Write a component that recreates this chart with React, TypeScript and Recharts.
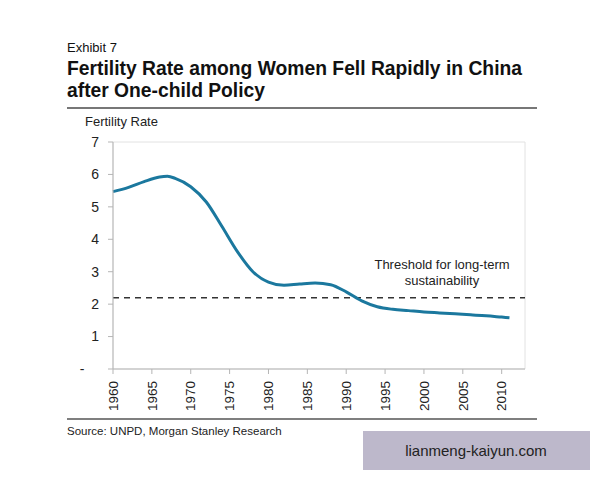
import React from 'react';
import { LineChart, Line, XAxis, YAxis, ReferenceLine, ReferenceArea } from 'recharts';

// fertility rate (births per woman)
const years = [1960, 1962, 1964, 1966, 1967, 1968, 1970, 1972, 1974, 1976, 1978, 1980, 1982, 1984, 1986, 1988, 1990, 1992, 1994, 1996, 1998, 2000, 2002, 2004, 2006, 2008, 2010, 2011];
const fertility = [5.47, 5.6, 5.78, 5.92, 5.94, 5.88, 5.62, 5.15, 4.4, 3.62, 3.0, 2.68, 2.58, 2.62, 2.65, 2.6, 2.38, 2.1, 1.92, 1.84, 1.8, 1.76, 1.73, 1.7, 1.67, 1.64, 1.6, 1.58];
const xTicks = [1960, 1965, 1970, 1975, 1980, 1985, 1990, 1995, 2000, 2005, 2010];
const yTicks = [0, 1, 2, 3, 4, 5, 6, 7];
const threshold = 2.2;

const data = years.map((y, i) => ({ year: y, rate: fertility[i] }));

const FONT = '"Liberation Sans", Arial, Helvetica, sans-serif';

const YTick = ({ x, y, payload }: any) => {
  if (payload.value === 0) {
    return <text x={x - 24} y={y} dy="0.35em" textAnchor="middle" fontSize={14} fill="#222" fontFamily={FONT}>-</text>;
  }
  return (
    <text x={x - 7} y={y} dy="0.35em" textAnchor="end" fontSize={14} fill="#222" fontFamily={FONT}>
      {payload.value}
    </text>
  );
};

const XTick = ({ x, y, payload }: any) => (
  <text x={x} y={y + 5} dy="0.35em" textAnchor="end" fontSize={13.5} fill="#222" fontFamily={FONT}
    transform={`rotate(-90 ${x} ${y + 5})`}>
    {payload.value}
  </text>
);

export default function App() {
  return (
    <div style={{ position: 'fixed', left: 0, top: 0, width: 600, height: 480, background: '#fff', fontFamily: FONT }}>
      <LineChart width={600} height={480} data={data} margin={{ top: 142, right: 75, bottom: 61, left: 73 }}>
        <ReferenceArea x1={1960} x2={2013} y1={0} y2={7} fill="none" stroke="#e2e2e2" />
        <XAxis type="number" dataKey="year" domain={[1960, 2013]} ticks={xTicks} interval={0}
          height={50} tick={<XTick />} tickSize={5} tickMargin={2}
          axisLine={{ stroke: '#b5b5b5' }} tickLine={{ stroke: '#b5b5b5' }} />
        <YAxis type="number" domain={[0, 7]} ticks={yTicks} interval={0} width={40}
          tick={<YTick />} tickSize={5} tickMargin={2}
          axisLine={{ stroke: '#b5b5b5' }} tickLine={{ stroke: '#b5b5b5' }} />
        <ReferenceLine y={threshold} stroke="#333" strokeWidth={1.5} strokeDasharray="6 5" />
        <Line type="monotone" dataKey="rate" stroke="#1b789e" strokeWidth={3} dot={false} isAnimationActive={false} />
      </LineChart>
      <svg width={600} height={480} style={{ position: 'absolute', left: 0, top: 0, pointerEvents: 'none' }} fontFamily={FONT}>
        <text x={67} y={52} fontSize={13} fill="#111">Exhibit 7</text>
        <text x={67} y={75} fontSize={21} fontWeight="bold" fill="#111" textLength={455} lengthAdjust="spacingAndGlyphs">
          Fertility Rate among Women Fell Rapidly in China
        </text>
        <text x={67} y={97} fontSize={21} fontWeight="bold" fill="#111" textLength={198} lengthAdjust="spacingAndGlyphs">
          after One-child Policy
        </text>
        <line x1={67} x2={537} y1={108} y2={108} stroke="#777" strokeWidth={2} />
        <text x={85} y={126} fontSize={13} fill="#222">Fertility Rate</text>
        <text x={442} y={269} fontSize={13} fill="#222" textAnchor="middle">Threshold for long-term</text>
        <text x={442} y={285} fontSize={13} fill="#222" textAnchor="middle">sustainability</text>
        <line x1={67} x2={537} y1={419} y2={419} stroke="#555" strokeWidth={1.5} />
        <text x={67} y={435} fontSize={11.5} fill="#222">Source: UNPD, Morgan Stanley Research</text>
        <rect x={363} y={431} width={227} height={39} fill="#bdb8cb" />
        <text x={476} y={456} fontSize={15} fill="#222" textAnchor="middle">lianmeng-kaiyun.com</text>
      </svg>
    </div>
  );
}
